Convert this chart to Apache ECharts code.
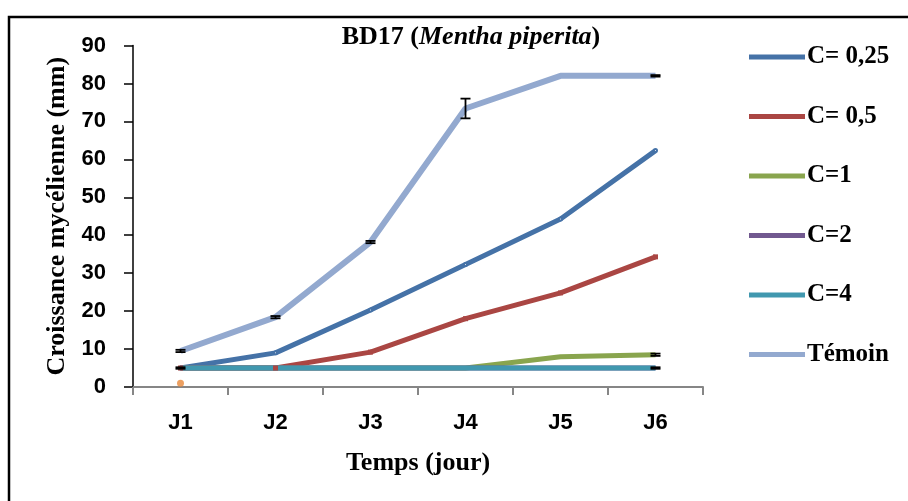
<!DOCTYPE html>
<html>
<head>
<meta charset="utf-8">
<script src="https://cdn.jsdelivr.net/npm/echarts@6/dist/echarts.min.js"></script>
<style>
html,body{margin:0;padding:0;background:#fff;}
#chart{width:908px;height:501px;}
</style>
</head>
<body>
<div id="chart"></div>
<script>
var categories = ['J1', 'J2', 'J3', 'J4', 'J5', 'J6'];
var c025 = [5, 9, 20.3, 32.3, 44.3, 62.3];
var c05 = [5, 5, 9.2, 18, 24.8, 34.3];
var c1 = [5, 5, 5, 5, 8, 8.5];
var c2 = [5, 5, 5, 5, 5, 5];
var c4 = [5, 5, 5, 5, 5, 5];
var temoin = [9.5, 18.4, 38.2, 73.4, 82, 82];
var temoinErr = [0.3, 0.3, 0.3, 2.6, 0, 0.2];
var c025Err = [0.2, 0, 0, 0, 0, 0];
var c1Err = [0, 0, 0, 0, 0, 0.3];
var c4Err = [0, 0, 0, 0, 0, 0.2];
var strayPoint = [[0, 1]];
var seriesNames = ['C= 0,25', 'C= 0,5', 'C=1', 'C=2', 'C=4', 'Témoin'];
var yTicks = [0, 10, 20, 30, 40, 50, 60, 70, 80, 90];

function errData(vals, errs) {
  var out = [];
  for (var i = 0; i < vals.length; i++) {
    if (errs[i] > 0) out.push([i, vals[i] - errs[i], vals[i] + errs[i]]);
  }
  return out;
}
var allErr = [].concat(errData(c025, c025Err), errData(c1, c1Err), errData(c4, c4Err), errData(temoin, temoinErr));

var chart = echarts.init(document.getElementById('chart'), null, {renderer: 'canvas'});
var serif = '"Liberation Serif", "Times New Roman", serif';
var sans = '"Liberation Sans", Arial, sans-serif';

function lineSeries(name, data, color, width, symbol, size) {
  return {
    name: name, type: 'line', data: data,
    symbol: symbol || 'none', symbolSize: size || 0, showSymbol: !!symbol,
    lineStyle: {color: color, width: width},
    itemStyle: {color: color},
    emphasis: {disabled: true},
    z: 3
  };
}

chart.setOption({
  animation: false,
  backgroundColor: '#fff',
  title: {
    text: '{b|BD17 (}{i|Mentha piperita}{b|)}',
    left: 466, top: 19, textAlign: 'center',
    textStyle: {
      rich: {
        b: {fontFamily: serif, fontWeight: 'bold', fontSize: 26, color: '#000'},
        i: {fontFamily: serif, fontWeight: 'bold', fontStyle: 'italic', fontSize: 26, color: '#000'}
      }
    }
  },
  legend: {
    orient: 'vertical', left: 744, top: 39,
    data: seriesNames,
    icon: 'rect', itemWidth: 56, itemHeight: 5, itemGap: 33.5,
    textStyle: {fontFamily: serif, fontWeight: 'bold', fontSize: 25, color: '#000', lineHeight: 26, padding: [0, 0, 0, -3]}
  },
  grid: {left: 133, right: 205, top: 45.5, bottom: 114, containLabel: false},
  xAxis: {
    type: 'category', data: categories, boundaryGap: true,
    axisLine: {lineStyle: {color: '#868686', width: 2}},
    axisTick: {show: true, length: 8, lineStyle: {color: '#868686', width: 2}},
    axisLabel: {margin: 25, fontFamily: sans, fontWeight: 'bold', fontSize: 22, color: '#000'},
    name: 'Temps (jour)', nameLocation: 'middle', nameGap: 63,
    nameTextStyle: {fontFamily: serif, fontWeight: 'bold', fontSize: 26, color: '#000'}
  },
  yAxis: {
    type: 'value', min: 0, max: 90, interval: 10,
    axisLine: {show: true, lineStyle: {color: '#000', width: 1.5}},
    axisTick: {show: true, length: 9, lineStyle: {color: '#000', width: 1.5}},
    splitLine: {show: false},
    axisLabel: {margin: 27, fontFamily: sans, fontWeight: 'bold', fontSize: 22, color: '#000',
      formatter: function (v) { return yTicks.indexOf(v) >= 0 ? String(v) : ''; }},
    name: 'Croissance mycélienne (mm)', nameLocation: 'middle', nameGap: 58,
    nameTextStyle: {fontFamily: serif, fontWeight: 'bold', fontSize: 26, color: '#000'}
  },
  graphic: [{
    type: 'rect', shape: {x: 9, y: 17, width: 920, height: 520},
    style: {fill: 'none', stroke: '#000', lineWidth: 2.5}, silent: true, z: 100
  }],
  series: [
    lineSeries('C= 0,25', c025, '#4572A7', 5, 'emptyCircle', 3),
    lineSeries('C= 0,5', c05, '#AA4643', 5, 'rect', 5),
    lineSeries('C=1', c1, '#89A54E', 5),
    lineSeries('C=2', c2, '#71588F', 5),
    lineSeries('C=4', c4, '#4198AF', 5),
    lineSeries('Témoin', temoin, '#93A9CF', 6),
    {
      name: 'stray', type: 'scatter', data: strayPoint, symbolSize: 7,
      itemStyle: {color: '#E9883A'}, z: 4
    },
    {
      name: 'err', type: 'custom', data: allErr, z: 5,
      renderItem: function (params, api) {
        var x = api.value(0);
        var lo = api.coord([x, api.value(1)]);
        var hi = api.coord([x, api.value(2)]);
        var w = 5;
        var st = {stroke: '#000', lineWidth: 1.8};
        return {type: 'group', children: [
          {type: 'line', shape: {x1: lo[0], y1: lo[1], x2: hi[0], y2: hi[1]}, style: st},
          {type: 'line', shape: {x1: lo[0] - w, y1: lo[1], x2: lo[0] + w, y2: lo[1]}, style: st},
          {type: 'line', shape: {x1: hi[0] - w, y1: hi[1], x2: hi[0] + w, y2: hi[1]}, style: st}
        ]};
      }
    }
  ]
});
</script>
</body>
</html>
